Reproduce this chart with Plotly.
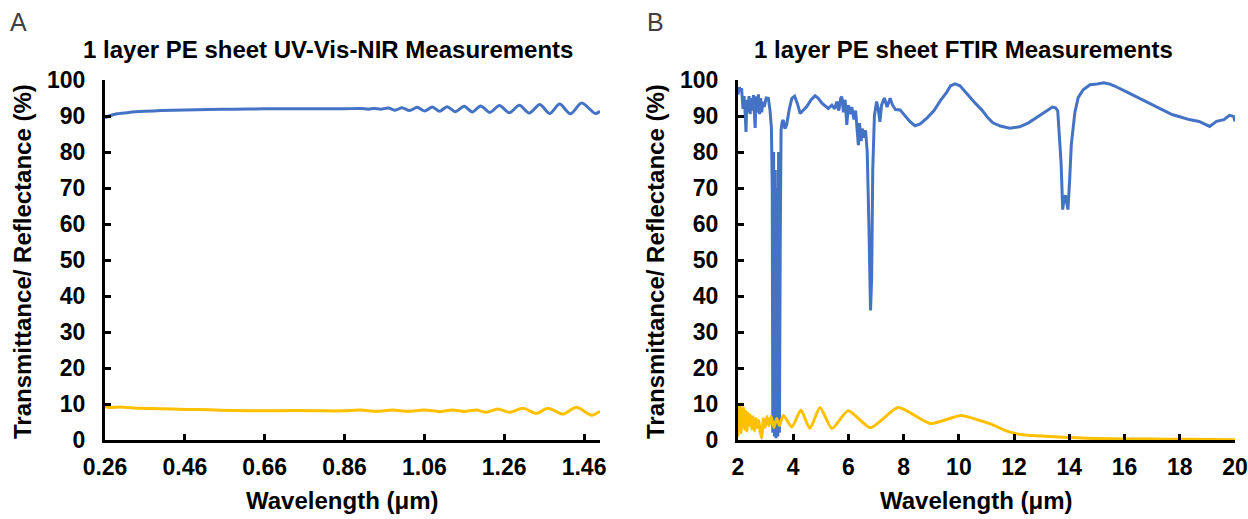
import plotly.graph_objects as go

# ---------------- Panel A: UV-Vis-NIR ----------------
wl_a_T = [0.26, 0.27, 0.29, 0.32, 0.36, 0.40, 0.46, 0.52, 0.58, 0.66, 0.74, 0.82, 0.86,
          0.90, 0.92, 0.935, 0.95, 0.970, 0.987, 1.004, 1.023, 1.042, 1.061, 1.080, 1.098,
          1.117, 1.138, 1.160, 1.180, 1.201, 1.224, 1.248, 1.273, 1.298, 1.323, 1.349,
          1.374, 1.399, 1.426, 1.454, 1.488, 1.50]
T_a = [89.5, 90.0, 90.6, 91.0, 91.3, 91.5, 91.7, 91.8, 91.9, 92.0, 92.0, 92.0, 92.0,
       92.1, 91.9, 92.1, 91.9, 92.2, 91.6, 92.3, 91.5, 92.4, 91.4, 92.5, 91.3,
       92.6, 91.2, 92.7, 91.1, 92.8, 91.0, 92.9, 90.9, 93.0, 90.8, 93.2,
       90.7, 93.3, 90.6, 93.6, 90.7, 91.3]

wl_a_R = [0.26, 0.27, 0.30, 0.33, 0.40, 0.46, 0.52, 0.58, 0.66, 0.74, 0.80, 0.86,
          0.90, 0.94, 0.98, 1.02, 1.06, 1.10, 1.13, 1.16, 1.19, 1.215, 1.244, 1.273,
          1.307, 1.340, 1.370, 1.407, 1.441, 1.479, 1.50]
R_a = [9.3, 9.0, 9.2, 8.9, 8.7, 8.5, 8.4, 8.2, 8.1, 8.2, 8.1, 8.1,
       8.3, 8.0, 8.3, 8.0, 8.3, 7.9, 8.3, 7.9, 8.3, 7.7, 8.6, 7.7,
       8.8, 7.4, 8.8, 7.2, 9.1, 6.9, 8.0]

xticks_a = [0.26, 0.46, 0.66, 0.86, 1.06, 1.26, 1.46]
xticklabels_a = ["0.26", "0.46", "0.66", "0.86", "1.06", "1.26", "1.46"]

# ---------------- Panel B: FTIR ----------------
wl_b_T = [2.00, 2.05, 2.10, 2.13, 2.18, 2.22, 2.26, 2.29, 2.32, 2.36, 2.40, 2.44, 2.48,
          2.52, 2.56, 2.60, 2.62, 2.66, 2.70, 2.74, 2.78, 2.82, 2.86, 2.90, 2.95, 3.02,
          3.10, 3.16, 3.21, 3.24, 3.26, 3.29, 3.32, 3.35, 3.38, 3.41, 3.44, 3.47, 3.50,
          3.53, 3.56, 3.60, 3.64, 3.70, 3.76, 3.86, 3.95, 4.05, 4.15, 4.25, 4.35, 4.49, 4.65,
          4.79, 4.90, 5.05, 5.27, 5.40, 5.50, 5.58, 5.65, 5.72, 5.76, 5.82, 5.88, 5.94,
          6.00, 6.06, 6.12, 6.20, 6.26, 6.32, 6.36, 6.40, 6.46, 6.50, 6.56, 6.62, 6.68,
          6.74, 6.80, 6.84, 6.88, 6.94, 7.02, 7.08, 7.14, 7.20, 7.30, 7.40, 7.51, 7.60,
          7.70, 7.87, 8.05, 8.23, 8.41, 8.60, 8.85, 9.10, 9.35, 9.55, 9.70, 9.86, 10.04,
          10.20, 10.40, 10.60, 10.85, 11.05, 11.23, 11.50, 11.84, 12.20, 12.52, 12.80,
          13.00, 13.20, 13.39, 13.50, 13.58, 13.64, 13.70, 13.76, 13.81, 13.86, 13.91,
          13.95, 14.01, 14.07, 14.20, 14.32, 14.50, 14.75, 15.00, 15.25, 15.45, 15.62,
          16.00, 16.36, 16.70, 17.10, 17.40, 17.72, 18.00, 18.34, 18.70, 19.00, 19.08,
          19.33, 19.60, 19.80, 19.95, 20.00]
T_b = [96.0, 98.0, 97.0, 97.7, 92.0, 95.5, 90.5, 85.6, 94.5, 91.0, 95.5, 90.5, 95.0,
       91.5, 95.8, 88.0, 86.7, 95.5, 91.0, 96.0, 90.5, 95.0, 91.0, 94.0, 92.5, 95.0,
       94.9, 91.5, 86.7, 70.0, 2.0, 80.0, 1.0, 75.0, 0.5, 70.0, 1.0, 80.0, 2.0,
       55.0, 86.0, 88.4, 88.9, 86.5, 87.5, 92.0, 94.9, 95.5, 93.5, 90.7, 91.5, 92.6, 94.5,
       95.6, 95.0, 93.5, 92.1, 93.0, 92.0, 94.0, 91.5, 95.0, 95.4, 91.0, 94.5, 87.5,
       93.0, 90.5, 92.5, 89.0, 91.5, 84.0, 81.9, 88.0, 83.0, 86.5, 84.0, 86.0, 80.0,
       60.0, 36.0, 45.0, 75.0, 90.0, 94.0, 92.0, 88.4, 93.0, 95.0, 92.5, 94.9, 93.0,
       91.8, 91.7, 90.0, 88.4, 87.3, 87.8, 89.5, 91.5, 94.5, 96.5, 98.4, 98.9, 98.4,
       97.0, 95.1, 93.5, 91.5, 89.5, 88.1, 87.2, 86.6, 87.0, 88.1, 89.4,
       90.4, 91.5, 92.5, 92.3, 91.4, 85.0, 77.2, 64.0, 67.0, 68.0, 65.0,
       64.0, 72.0, 81.9, 91.0, 95.1, 97.3, 98.7, 98.9, 99.2, 98.9, 98.4,
       97.0, 95.6, 94.2, 92.8, 91.5, 90.4, 89.8, 89.0, 88.5, 87.3, 87.1,
       88.5, 89.0, 90.2, 89.9, 88.5]

wl_b_R = [2.00, 2.02, 2.05, 2.08, 2.11, 2.14, 2.17, 2.20, 2.24, 2.28, 2.32, 2.36, 2.40,
          2.45, 2.50, 2.55, 2.60, 2.65, 2.70, 2.75, 2.80, 2.86, 2.92, 2.98, 3.05, 3.12,
          3.20, 3.30, 3.40, 3.50, 3.64, 3.95, 4.28, 4.60, 4.97, 5.40, 5.99, 6.80, 7.80,
          8.96, 10.07, 10.60, 11.17, 11.60, 12.04, 12.50, 13.00, 13.60, 14.25, 15.00,
          16.00, 17.00, 18.00, 19.00, 20.00]
R_b = [1.0, 9.5, 3.0, 10.0, 2.0, 8.5, 4.0, 9.0, 3.0, 8.0, 2.5, 7.5, 4.0,
       7.0, 3.0, 6.5, 2.5, 6.0, 3.5, 5.5, 2.5, 0.5, 6.0, 3.5, 6.5, 4.0,
       6.5, 3.5, 6.0, 4.0, 6.9, 3.6, 8.3, 3.2, 9.0, 3.2, 8.1, 3.4, 9.0,
       4.6, 6.8, 5.8, 4.4, 2.9, 1.8, 1.3, 1.1, 0.8, 0.6, 0.4,
       0.3, 0.25, 0.2, 0.15, 0.1]

xticks_b = [2, 4, 6, 8, 10, 12, 14, 16, 18, 20]

yticks = [0, 10, 20, 30, 40, 50, 60, 70, 80, 90, 100]

BLUE = "#4472C4"
GOLD = "#FFC000"
FONT = "Liberation Sans, Arial, sans-serif"
W, H = 1248, 519


def px_x(px):
    return px / W


def px_y(py):
    return 1 - py / H


fig = go.Figure()
fig.add_trace(go.Scatter(x=wl_a_T, y=T_a, mode="lines", line=dict(color=BLUE, width=3, shape="spline", smoothing=0.8),
                         xaxis="x", yaxis="y", showlegend=False))
fig.add_trace(go.Scatter(x=wl_a_R, y=R_a, mode="lines", line=dict(color=GOLD, width=3, shape="spline", smoothing=0.8),
                         xaxis="x", yaxis="y", showlegend=False))
fig.add_trace(go.Scatter(x=wl_b_T, y=T_b, mode="lines", line=dict(color=BLUE, width=3),
                         xaxis="x2", yaxis="y2", showlegend=False))
fig.add_trace(go.Scatter(x=wl_b_R, y=R_b, mode="lines", line=dict(color=GOLD, width=3, shape="spline", smoothing=0.6),
                         xaxis="x2", yaxis="y2", showlegend=False))

tickfont = dict(family=FONT, size=23, color="black", weight="bold")
common_axis = dict(showline=True, linecolor="black", linewidth=3, ticks="inside", ticklen=6,
                   tickwidth=3, tickcolor="black", showgrid=False, zeroline=False,
                   tickfont=tickfont, automargin=False, ticklabeloverflow="allow")

y0 = px_y(440)
y1 = px_y(80)
fig.update_layout(
    width=W, height=H, margin=dict(l=0, r=0, t=0, b=0, autoexpand=False),
    paper_bgcolor="white", plot_bgcolor="white",
    xaxis=dict(domain=[px_x(105), px_x(600)], range=[0.26, 1.50], tickvals=xticks_a,
               ticktext=xticklabels_a, anchor="y", ticklabelstandoff=4, **common_axis),
    yaxis=dict(domain=[y0, y1], range=[0, 100], tickvals=yticks, anchor="x", ticklabelstandoff=12, **common_axis),
    xaxis2=dict(domain=[px_x(738), px_x(1235)], range=[2, 20], tickvals=xticks_b, anchor="y2",
                ticklabelstandoff=4, **common_axis),
    yaxis2=dict(domain=[y0, y1], range=[0, 100], tickvals=yticks, anchor="x2", ticklabelstandoff=12, **common_axis),
)


def ann(text, px, py, size=24, bold=True, angle=0, color="black"):
    fig.add_annotation(text=text, x=px_x(px), y=px_y(py), xref="paper", yref="paper",
                       showarrow=False, textangle=angle, xanchor="center", yanchor="middle",
                       font=dict(family=FONT, size=size, color=color, weight="bold" if bold else "normal"))


ann("1 layer PE sheet UV-Vis-NIR Measurements", 328, 50)
ann("1 layer PE sheet FTIR Measurements", 963, 50)
ann("A", 18, 22, size=25, bold=False, color="#404040")
ann("B", 655, 22, size=25, bold=False, color="#404040")
ann("Transmittance/ Reflectance (%)", 22, 262, angle=-90)
ann("Transmittance/ Reflectance (%)", 655, 262, angle=-90)
ann("Wavelength (μm)", 342, 500)
ann("Wavelength (μm)", 976, 500)

# remove the browser's default 8px body margin so the figure fills the window exactly
fig.write_html("out.html", config={"displayModeBar": False},
               post_script="document.body.style.margin='0';document.body.style.overflow='hidden';")
